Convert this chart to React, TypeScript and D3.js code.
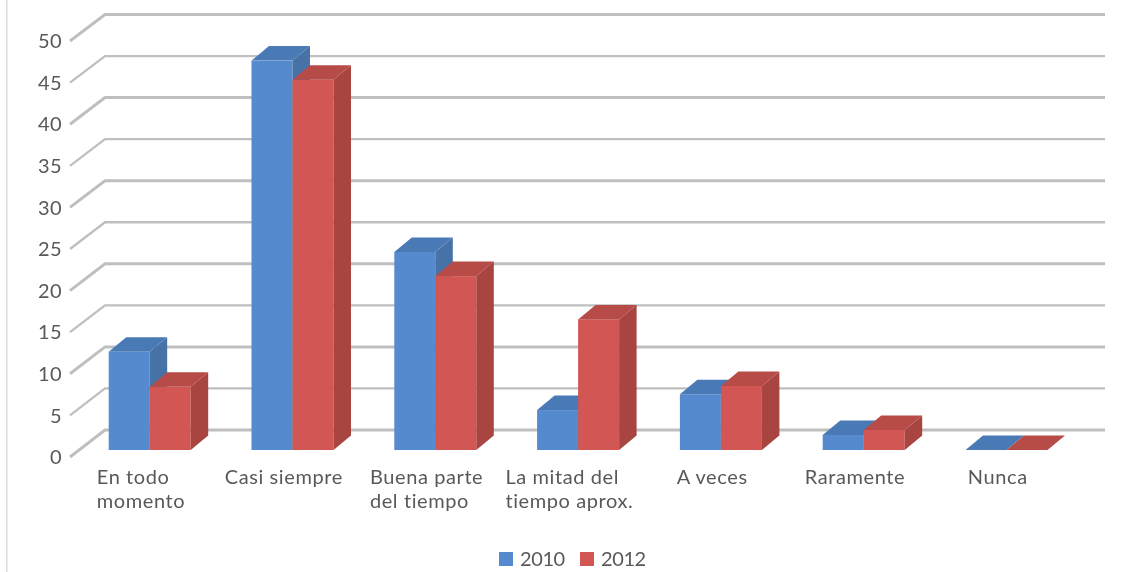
import React, { useEffect, useRef } from "react";
import * as d3 from "d3";

const categories = [
  ["En todo", "momento"],
  ["Casi siempre"],
  ["Buena parte", "del tiempo"],
  ["La mitad del", "tiempo aprox."],
  ["A veces"],
  ["Raramente"],
  ["Nunca"],
];
const series2010 = [11.8, 46.8, 23.8, 4.8, 6.7, 1.8, 0];
const series2012 = [7.6, 44.5, 20.9, 15.7, 7.7, 2.4, 0];
const ticks = [0, 5, 10, 15, 20, 25, 30, 35, 40, 45, 50];
const seriesNames = ["2010", "2012"];

const FONT = "Lato, Carlito, sans-serif";
const TEXT = "#595959";
const styles = [
  { front: "#558ace", top: "#4a7ab6", side: "#4672a8" },
  { front: "#d25653", top: "#b64b47", side: "#a84441" },
];

export default function App() {
  const ref = useRef<SVGSVGElement>(null);
  useEffect(() => {
    const svg = d3.select(ref.current!);
    svg.selectAll("*").remove();

    const defs = svg.append("defs");
    defs.append("filter").attr("id", "soft").append("feGaussianBlur").attr("stdDeviation", 0.5);
    defs.append("filter").attr("id", "softText").append("feGaussianBlur").attr("stdDeviation", 0.3);

    const yFront = d3.scaleLinear().domain([0, 50]).range([450, 34]);
    const yTick = d3.scaleLinear().domain([0, 50]).range([457, 41]);
    const yWall = d3.scaleLinear().domain([0, 50]).range([430, 14.5]);
    const bandCenter = d3.scalePoint<number>()
      .domain(d3.range(categories.length))
      .range([149.7, 149.7 + 6 * 142.8]);
    const barW = 41;
    const dx = 17.5;
    const dy = 14.5;

    svg.append("rect").attr("x", 6).attr("y", 0).attr("width", 1.5).attr("height", 572).attr("fill", "#dcdcdc");

    const art = svg.append("g").attr("filter", "url(#soft)");
    const grid = art.append("g");
    ticks.forEach((t, k) => {
      const w = k % 2 === 0 ? 3 : 2.3;
      grid.append("path")
        .attr("d", `M70,${yTick(t)}L105,${yWall(t)}L1105,${yWall(t)}`)
        .attr("fill", "none")
        .attr("stroke", "#bfbfbf")
        .attr("stroke-width", w);
    });

    const bars = art.append("g");
    const line = (pts: [number, number][]) => d3.line()(pts)! + "Z";
    categories.forEach((_, i) => {
      [series2010[i], series2012[i]].forEach((v, s) => {
        const x0 = bandCenter(i)! - barW + s * barW;
        const x1 = x0 + barW;
        const yb = yFront(0);
        const yt = yFront(v);
        const st = styles[s];
        if (v > 0) {
          bars.append("rect").attr("x", x0).attr("y", yt).attr("width", barW).attr("height", yb - yt).attr("fill", st.front);
          bars.append("path").attr("fill", st.side).attr("d", line([[x1, yt], [x1 + dx, yt - dy], [x1 + dx, yb - dy], [x1, yb]]));
        }
        bars.append("path").attr("fill", st.top).attr("d", line([[x0, yt], [x0 + dx, yt - dy], [x1 + dx, yt - dy], [x1, yt]]));
      });
    });

    const tg = svg.append("g").attr("font-family", FONT).attr("fill", TEXT).attr("filter", "url(#softText)");
    ticks.forEach((t) => {
      tg.append("text").attr("x", 62).attr("y", yTick(t)).attr("dy", "0.36em")
        .attr("text-anchor", "end").attr("font-size", 20).attr("letter-spacing", 0.4).text(String(t));
    });

    categories.forEach((lines, i) => {
      const g = tg.append("g").attr("font-size", 20).attr("letter-spacing", 0.6);
      lines.forEach((l, j) => {
        g.append("text").attr("x", 0).attr("y", 484 + j * 24).text(l);
      });
      const w = (g.node() as SVGGElement).getBBox().width;
      g.attr("transform", `translate(${bandCenter(i)! - 8.7 - w / 2},0)`);
    });

    const legend = svg.append("g").attr("font-family", FONT).attr("fill", TEXT).attr("font-size", 20).attr("letter-spacing", -0.4).attr("filter", "url(#softText)");
    seriesNames.forEach((n, s) => {
      const lx = 499 + s * 81;
      legend.append("rect").attr("x", lx).attr("y", 552).attr("width", 14).attr("height", 14).attr("fill", styles[s].front);
      legend.append("text").attr("x", lx + 21).attr("y", 565.5).text(n);
    });
  }, []);
  return (
    <svg ref={ref} width={1128} height={572} style={{ position: "absolute", left: 0, top: 0, background: "#fff" }} />
  );
}
